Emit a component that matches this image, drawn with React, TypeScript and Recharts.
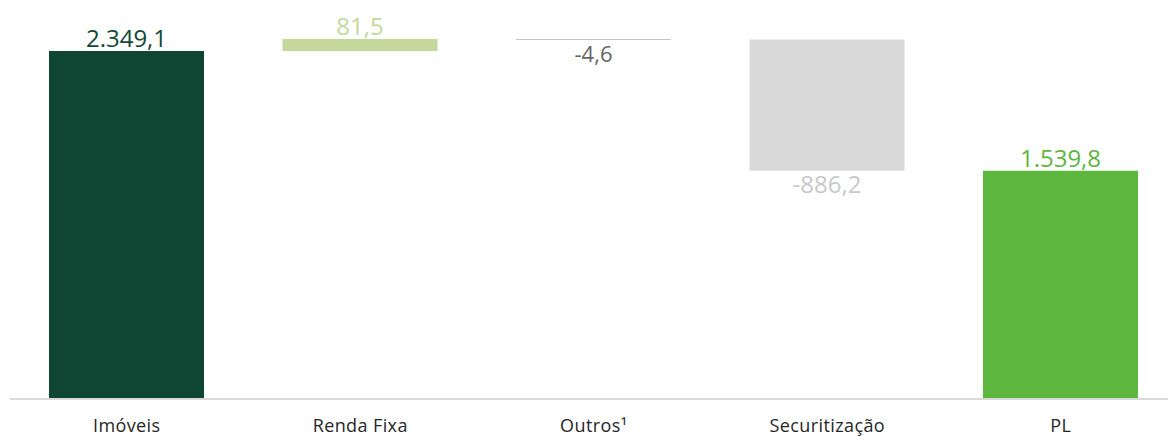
import React from 'react';
import { BarChart, Bar, XAxis, YAxis, Cell, LabelList } from 'recharts';

// Waterfall: composição do PL (R$ milhões)
const categories = ['Imóveis', 'Renda Fixa', 'Outros¹', 'Securitização', 'PL'];
const deltas = [2349.1, 81.5, -4.6, -886.2, 1539.8];
const valueLabels = ['2.349,1', '81,5', '-4,6', '-886,2', '1.539,8'];
const isTotal = [true, false, false, false, true];

const barColors = ['#0f4633', '#c4d89b', '#8c8c8c', '#d9d9d9', '#5db63d'];
const labelColors = ['#134a35', '#c4d89b', '#666666', '#c8c8c8', '#5db63d'];

// running totals -> invisible base + visible step
let running = 0;
const data = categories.map((name, i) => {
  const d = deltas[i];
  let base = 0;
  if (isTotal[i]) {
    running = d;
    base = 0;
  } else if (d >= 0) {
    base = running;
    running += d;
  } else {
    running += d;
    base = running;
  }
  return { name, base, step: Math.abs(d), label: valueLabels[i], neg: d < 0 };
});

const ValueLabel = (props: any) => {
  const { x, y, width, height, index } = props;
  const row = data[index];
  const cx = x + width / 2;
  const ty = row.neg ? y + height + 22 : y - 4;
  return (
    <text
      x={cx}
      y={ty}
      textAnchor="middle"
      fill={labelColors[index]}
      fontSize={index === 2 ? 22 : 24}
      fontFamily="Open Sans"
    >
      {row.label}
    </text>
  );
};

export default function App() {
  return (
    <div
      style={{
        position: 'absolute',
        left: 0,
        top: 0,
        width: 1168,
        height: 436,
        overflow: 'hidden',
        background: '#ffffff',
        fontFamily: 'Open Sans',
      }}
    >
      <BarChart
        width={1180}
        height={436}
        data={data}
        margin={{ top: 13.8, right: 2.5, left: 10, bottom: 0 }}
        barSize={155}
      >
        <XAxis
          dataKey="name"
          axisLine={{ stroke: '#d9d9d9', strokeWidth: 2 }}
          tickLine={false}
          tickMargin={14}
          height={37}
          interval={0}
          tick={{ fill: '#262626', fontSize: 18, fontFamily: 'Open Sans', letterSpacing: 0.4 }}
        />
        <YAxis hide domain={[0, 2600]} allowDataOverflow />
        <Bar dataKey="base" stackId="w" fill="transparent" isAnimationActive={false} />
        <Bar dataKey="step" stackId="w" isAnimationActive={false}>
          {data.map((_, i) => (
            <Cell key={i} fill={barColors[i]} />
          ))}
          <LabelList dataKey="label" content={<ValueLabel />} />
        </Bar>
      </BarChart>
    </div>
  );
}
